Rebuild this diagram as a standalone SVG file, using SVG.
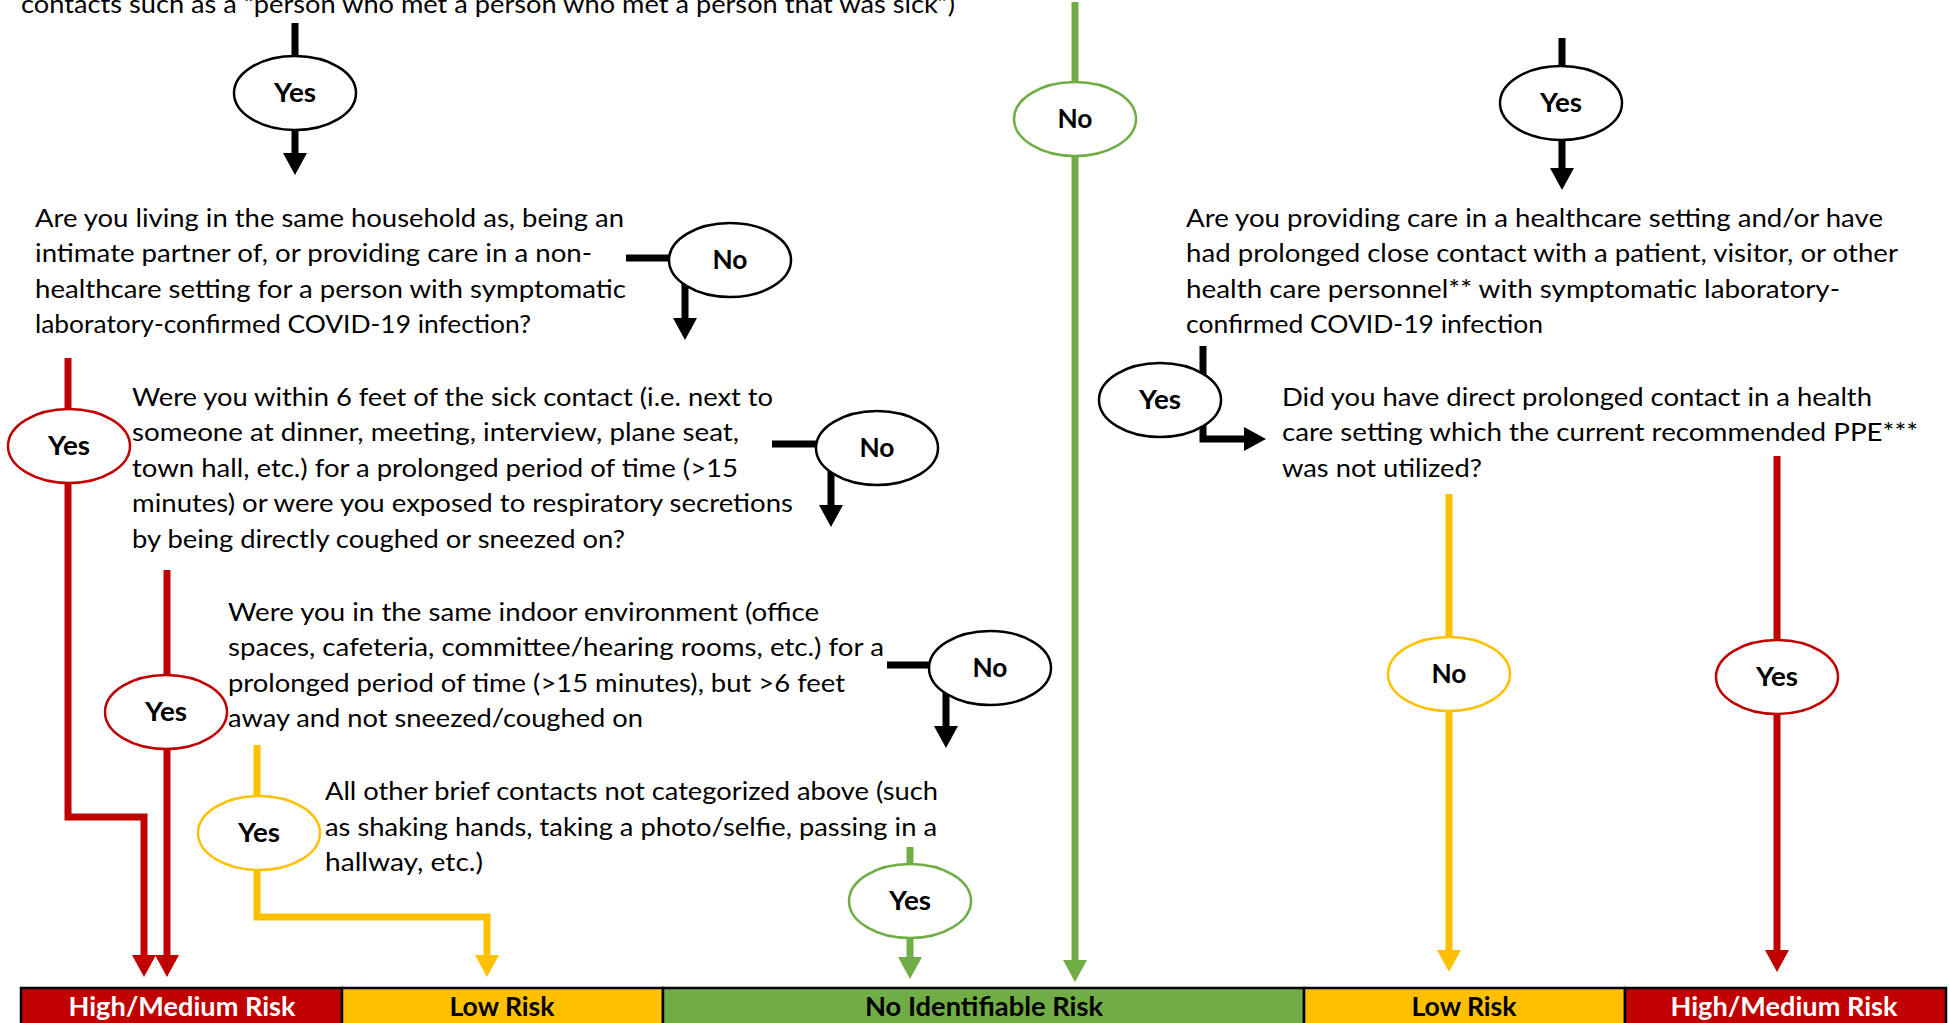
<svg xmlns="http://www.w3.org/2000/svg" width="1950" height="1023" viewBox="0 0 1950 1023">
<style>
.q{font-family:Lato,"Liberation Sans",sans-serif;font-size:25.5px;fill:#000}
.lbl{font-family:Lato,"Liberation Sans",sans-serif;font-size:27px;font-weight:bold;fill:#000;text-anchor:middle}
.bar{font-family:Lato,"Liberation Sans",sans-serif;font-size:27px;font-weight:bold;text-anchor:middle}
.c{fill:none;stroke-width:7;stroke-linejoin:miter}
.k{stroke:#000}.r{stroke:#C00000}.y{stroke:#FFC000}.g{stroke:#70AD47}
.e{fill:#fff;stroke-width:2.5}
</style>
<defs>
<marker id="ak" viewBox="0 -12 22 24" refX="0" refY="0" markerUnits="userSpaceOnUse" markerWidth="22" markerHeight="24" orient="auto"><path d="M0,-12L22,0L0,12z" fill="#000"/></marker>
<marker id="ar" viewBox="0 -12 22 24" refX="0" refY="0" markerUnits="userSpaceOnUse" markerWidth="22" markerHeight="24" orient="auto"><path d="M0,-12L22,0L0,12z" fill="#C00000"/></marker>
<marker id="ay" viewBox="0 -12 22 24" refX="0" refY="0" markerUnits="userSpaceOnUse" markerWidth="22" markerHeight="24" orient="auto"><path d="M0,-12L22,0L0,12z" fill="#FFC000"/></marker>
<marker id="ag" viewBox="0 -12 22 24" refX="0" refY="0" markerUnits="userSpaceOnUse" markerWidth="22" markerHeight="24" orient="auto"><path d="M0,-12L22,0L0,12z" fill="#70AD47"/></marker>
</defs>
<rect width="1950" height="1023" fill="#fff"/>

<g id="connectors">
<path class="c k" d="M295,23V153" marker-end="url(#ak)"/>
<path class="c k" d="M626,258H685V318" marker-end="url(#ak)"/>
<path class="c k" d="M772,444H831V505" marker-end="url(#ak)"/>
<path class="c k" d="M887,665H946V726" marker-end="url(#ak)"/>
<path class="c r" d="M68,358V817H144V955" marker-end="url(#ar)"/>
<path class="c r" d="M167,570V955" marker-end="url(#ar)"/>
<path class="c y" d="M257,745V917H487V955" marker-end="url(#ay)"/>
<path class="c g" d="M910,847V957" marker-end="url(#ag)"/>
<path class="c g" d="M1075,2V960" marker-end="url(#ag)"/>
<path class="c k" d="M1562,38V168" marker-end="url(#ak)"/>
<path class="c k" d="M1203,346V439H1244" marker-end="url(#ak)"/>
<path class="c y" d="M1449,494V950" marker-end="url(#ay)"/>
<path class="c r" d="M1777,456V950" marker-end="url(#ar)"/>
</g>

<g id="q0"><text class="q" x="21" y="13" textLength="934" lengthAdjust="spacingAndGlyphs">contacts such as a “person who met a person who met a person that was sick”)</text></g>

<g id="yes1"><ellipse class="e" cx="295" cy="93" rx="61" ry="37" stroke="#000"/><text class="lbl" x="295" y="102" textLength="42" lengthAdjust="spacingAndGlyphs">Yes</text></g>

<g id="q1">
<text class="q" x="35" y="227" textLength="589" lengthAdjust="spacingAndGlyphs">Are you living in the same household as, being an</text>
<text class="q" x="35" y="262" textLength="557" lengthAdjust="spacingAndGlyphs">intimate partner of, or providing care in a non-</text>
<text class="q" x="35" y="298" textLength="591" lengthAdjust="spacingAndGlyphs">healthcare setting for a person with symptomatic</text>
<text class="q" x="35" y="333" textLength="496" lengthAdjust="spacingAndGlyphs">laboratory-confirmed COVID-19 infection?</text>
</g>
<g id="no1"><ellipse class="e" cx="730" cy="260" rx="61" ry="37" stroke="#000"/><text class="lbl" x="730" y="269" textLength="35" lengthAdjust="spacingAndGlyphs">No</text></g>

<g id="yes2"><ellipse class="e" cx="69" cy="446" rx="61" ry="37" stroke="#C00000"/><text class="lbl" x="69" y="455" textLength="42" lengthAdjust="spacingAndGlyphs">Yes</text></g>
<g id="q2">
<text class="q" x="132" y="406" textLength="641" lengthAdjust="spacingAndGlyphs">Were you within 6 feet of the sick contact (i.e. next to</text>
<text class="q" x="132" y="441" textLength="607" lengthAdjust="spacingAndGlyphs">someone at dinner, meeting, interview, plane seat,</text>
<text class="q" x="132" y="477" textLength="606" lengthAdjust="spacingAndGlyphs">town hall, etc.) for a prolonged period of time (&gt;15</text>
<text class="q" x="132" y="512" textLength="661" lengthAdjust="spacingAndGlyphs">minutes) or were you exposed to respiratory secretions</text>
<text class="q" x="132" y="548" textLength="493" lengthAdjust="spacingAndGlyphs">by being directly coughed or sneezed on?</text>
</g>
<g id="no2"><ellipse class="e" cx="877" cy="448" rx="61" ry="37" stroke="#000"/><text class="lbl" x="877" y="457" textLength="35" lengthAdjust="spacingAndGlyphs">No</text></g>

<g id="yes3"><ellipse class="e" cx="166" cy="712" rx="61" ry="37" stroke="#C00000"/><text class="lbl" x="166" y="721" textLength="42" lengthAdjust="spacingAndGlyphs">Yes</text></g>
<g id="q3">
<text class="q" x="228" y="621" textLength="591" lengthAdjust="spacingAndGlyphs">Were you in the same indoor environment (office</text>
<text class="q" x="228" y="656" textLength="656" lengthAdjust="spacingAndGlyphs">spaces, cafeteria, committee/hearing rooms, etc.) for a</text>
<text class="q" x="228" y="692" textLength="617" lengthAdjust="spacingAndGlyphs">prolonged period of time (&gt;15 minutes), but &gt;6 feet</text>
<text class="q" x="228" y="727" textLength="415" lengthAdjust="spacingAndGlyphs">away and not sneezed/coughed on</text>
</g>
<g id="no3"><ellipse class="e" cx="990" cy="668" rx="61" ry="37" stroke="#000"/><text class="lbl" x="990" y="677" textLength="35" lengthAdjust="spacingAndGlyphs">No</text></g>

<g id="yes4"><ellipse class="e" cx="259" cy="833" rx="61" ry="37" stroke="#FFC000"/><text class="lbl" x="259" y="842" textLength="42" lengthAdjust="spacingAndGlyphs">Yes</text></g>
<g id="q4">
<text class="q" x="325" y="800" textLength="613" lengthAdjust="spacingAndGlyphs">All other brief contacts not categorized above (such</text>
<text class="q" x="325" y="836" textLength="612" lengthAdjust="spacingAndGlyphs">as shaking hands, taking a photo/selfie, passing in a</text>
<text class="q" x="325" y="871" textLength="158" lengthAdjust="spacingAndGlyphs">hallway, etc.)</text>
</g>
<g id="yes5"><ellipse class="e" cx="910" cy="901" rx="61" ry="37" stroke="#70AD47"/><text class="lbl" x="910" y="910" textLength="42" lengthAdjust="spacingAndGlyphs">Yes</text></g>

<g id="noMain"><ellipse class="e" cx="1075" cy="119" rx="61" ry="37" stroke="#70AD47"/><text class="lbl" x="1075" y="128" textLength="35" lengthAdjust="spacingAndGlyphs">No</text></g>

<g id="yesR1"><ellipse class="e" cx="1561" cy="103" rx="61" ry="37" stroke="#000"/><text class="lbl" x="1561" y="112" textLength="42" lengthAdjust="spacingAndGlyphs">Yes</text></g>
<g id="qR1">
<text class="q" x="1186" y="227" textLength="697" lengthAdjust="spacingAndGlyphs">Are you providing care in a healthcare setting and/or have</text>
<text class="q" x="1186" y="262" textLength="712" lengthAdjust="spacingAndGlyphs">had prolonged close contact with a patient, visitor, or other</text>
<text class="q" x="1186" y="298" textLength="654" lengthAdjust="spacingAndGlyphs">health care personnel** with symptomatic laboratory-</text>
<text class="q" x="1186" y="333" textLength="357" lengthAdjust="spacingAndGlyphs">confirmed COVID-19 infection</text>
</g>
<g id="yesR2"><ellipse class="e" cx="1160" cy="400" rx="61" ry="37" stroke="#000"/><text class="lbl" x="1160" y="409" textLength="42" lengthAdjust="spacingAndGlyphs">Yes</text></g>
<g id="qR2">
<text class="q" x="1282" y="406" textLength="590" lengthAdjust="spacingAndGlyphs">Did you have direct prolonged contact in a health</text>
<text class="q" x="1282" y="441" textLength="636" lengthAdjust="spacingAndGlyphs">care setting which the current recommended PPE***</text>
<text class="q" x="1282" y="477" textLength="200" lengthAdjust="spacingAndGlyphs">was not utilized?</text>
</g>
<g id="noR"><ellipse class="e" cx="1449" cy="674" rx="61" ry="37" stroke="#FFC000"/><text class="lbl" x="1449" y="683" textLength="35" lengthAdjust="spacingAndGlyphs">No</text></g>
<g id="yesR3"><ellipse class="e" cx="1777" cy="677" rx="61" ry="37" stroke="#C00000"/><text class="lbl" x="1777" y="686" textLength="42" lengthAdjust="spacingAndGlyphs">Yes</text></g>

<g id="riskbar" stroke="#000" stroke-width="2.5">
<rect x="21" y="988" width="321" height="40" fill="#C00000"/>
<rect x="342" y="988" width="321" height="40" fill="#FFC000"/>
<rect x="663" y="988" width="641" height="40" fill="#70AD47"/>
<rect x="1304" y="988" width="321" height="40" fill="#FFC000"/>
<rect x="1625" y="988" width="321" height="40" fill="#C00000"/>
<text class="bar" x="182" y="1016" fill="#fff" stroke="none" textLength="227" lengthAdjust="spacingAndGlyphs">High/Medium Risk</text>
<text class="bar" x="502" y="1016" fill="#000" stroke="none" textLength="105" lengthAdjust="spacingAndGlyphs">Low Risk</text>
<text class="bar" x="984" y="1016" fill="#000" stroke="none" textLength="238" lengthAdjust="spacingAndGlyphs">No Identifiable Risk</text>
<text class="bar" x="1464" y="1016" fill="#000" stroke="none" textLength="105" lengthAdjust="spacingAndGlyphs">Low Risk</text>
<text class="bar" x="1784" y="1016" fill="#fff" stroke="none" textLength="227" lengthAdjust="spacingAndGlyphs">High/Medium Risk</text>
</g>
</svg>
